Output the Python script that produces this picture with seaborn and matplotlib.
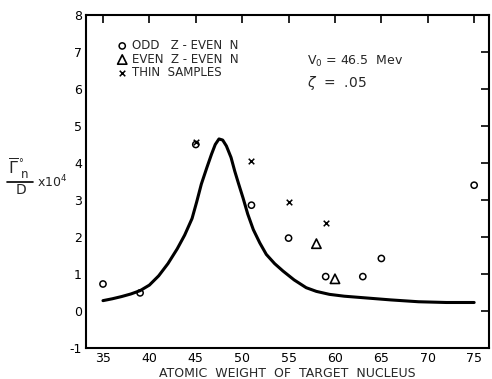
import matplotlib
matplotlib.use("Agg")
import matplotlib.pyplot as plt
import seaborn as sns
import pandas as pd
from matplotlib.lines import Line2D

# Data
odd_x = [35, 39, 45, 51, 55, 59, 63, 65, 75]
odd_y = [0.73, 0.49, 4.50, 2.86, 1.97, 0.93, 0.93, 1.42, 3.40]
even_x = [58, 60]
even_y = [1.82, 0.87]
thin_x = [45, 51, 55, 59]
thin_y = [4.56, 4.05, 2.95, 2.38]
curve_x = [35, 36, 37, 38, 39, 40, 41, 42, 43, 43.8, 44.6, 45.1, 45.6, 46.2, 46.7,
           47.1, 47.5, 47.9, 48.3, 48.8, 49.2, 49.6, 50.1, 50.6, 51.2, 51.9, 52.6,
           53.5, 54.4, 55.6, 56.9, 58.0, 59.4, 61.0, 63.0, 66.0, 69.0, 72.0, 75.0]
curve_y = [0.28, 0.33, 0.39, 0.46, 0.55, 0.70, 0.95, 1.28, 1.68, 2.05, 2.50, 2.95,
           3.43, 3.88, 4.24, 4.50, 4.65, 4.62, 4.46, 4.15, 3.78, 3.45, 3.05, 2.62,
           2.20, 1.84, 1.53, 1.28, 1.08, 0.84, 0.63, 0.53, 0.45, 0.40, 0.36, 0.30,
           0.25, 0.23, 0.23]
xticks = [35, 40, 45, 50, 55, 60, 65, 70, 75]
yticks = [-1, 0, 1, 2, 3, 4, 5, 6, 7, 8]
legend_labels = ["ODD   Z - EVEN  N", "EVEN  Z - EVEN  N", "THIN  SAMPLES"]

sns.set_style("white")
plt.rcParams['font.family'] = ['DejaVu Sans']
plt.rcParams['mathtext.fontset'] = 'dejavusans'

W, H = 492, 379
fig = plt.figure(figsize=(4.92, 3.79), dpi=100)
ax = fig.add_axes([86/W, 31/H, 403/W, 333/H])

curve = pd.DataFrame({"x": curve_x, "y": curve_y})
sns.lineplot(data=curve, x="x", y="y", ax=ax, color="black", lw=2.2, sort=False)

odd = pd.DataFrame({"x": odd_x, "y": odd_y})
even = pd.DataFrame({"x": even_x, "y": even_y})
thin = pd.DataFrame({"x": thin_x, "y": thin_y})
sns.scatterplot(data=odd, x="x", y="y", ax=ax, marker="o", s=20,
                facecolor="none", edgecolor="black", linewidth=1.1,
                label=legend_labels[0])
sns.scatterplot(data=even, x="x", y="y", ax=ax, marker="^", s=45,
                facecolor="none", edgecolor="black", linewidth=1.2,
                label=legend_labels[1])
sns.scatterplot(data=thin, x="x", y="y", ax=ax, marker="x", s=16,
                color="black", linewidth=1.1, label=legend_labels[2])

ax.set_xlim(33.17, 76.6)
ax.set_ylim(-1, 8)
ax.set_xticks(xticks)
ax.set_yticks(yticks)
ax.set_xticklabels([str(v) for v in xticks], fontsize=9)
ax.set_yticklabels([str(v) for v in yticks], fontsize=9)
ax.tick_params(direction="in", length=6, width=1.2, top=True, right=True,
               colors="black", pad=3)
ax.tick_params(axis="x", labeltop=False)
ax.tick_params(axis="y", labelright=False)
for sp in ax.spines.values():
    sp.set_linewidth(1.5)
    sp.set_color("black")
    sp.set_visible(True)

ax.set_xlabel("ATOMIC  WEIGHT  OF  TARGET  NUCLEUS", fontsize=9, labelpad=1)
ax.set_ylabel("")

leg = ax.legend(loc="upper left", bbox_to_anchor=(0.065, 0.942), frameon=False,
                fontsize=8.5, handletextpad=0.4, labelspacing=0.05,
                borderaxespad=0, handlelength=0.9)

ax.text(0.548, 0.85, r"V$_0$ = 46.5  Mev", transform=ax.transAxes, fontsize=9)
ax.text(0.548, 0.785, r"$\zeta$  =  .05", transform=ax.transAxes, fontsize=10)

# y-axis label: (overline Gamma ° n) / D  x 10^4, drawn as pieces
def fx(px):
    return px / W

def fy(py):
    return 1 - py / H

fig.text(fx(13), fy(168), r"$\overline{\Gamma}$", fontsize=11.5, ha="center", va="center")
fig.text(fx(20.5), fy(163), "°", fontsize=7, ha="center", va="center")
fig.text(fx(25), fy(174), "n", fontsize=8.5, ha="center", va="center")
fig.add_artist(Line2D([fx(7), fx(33)], [fy(182), fy(182)], color="black", lw=1.2,
                      transform=fig.transFigure))
fig.text(fx(21), fy(190.5), "D", fontsize=10, ha="center", va="center")
fig.text(fx(37), fy(182), r"x10$^{4}$", fontsize=9, va="center", ha="left")

fig.savefig("out.png", dpi=100)
